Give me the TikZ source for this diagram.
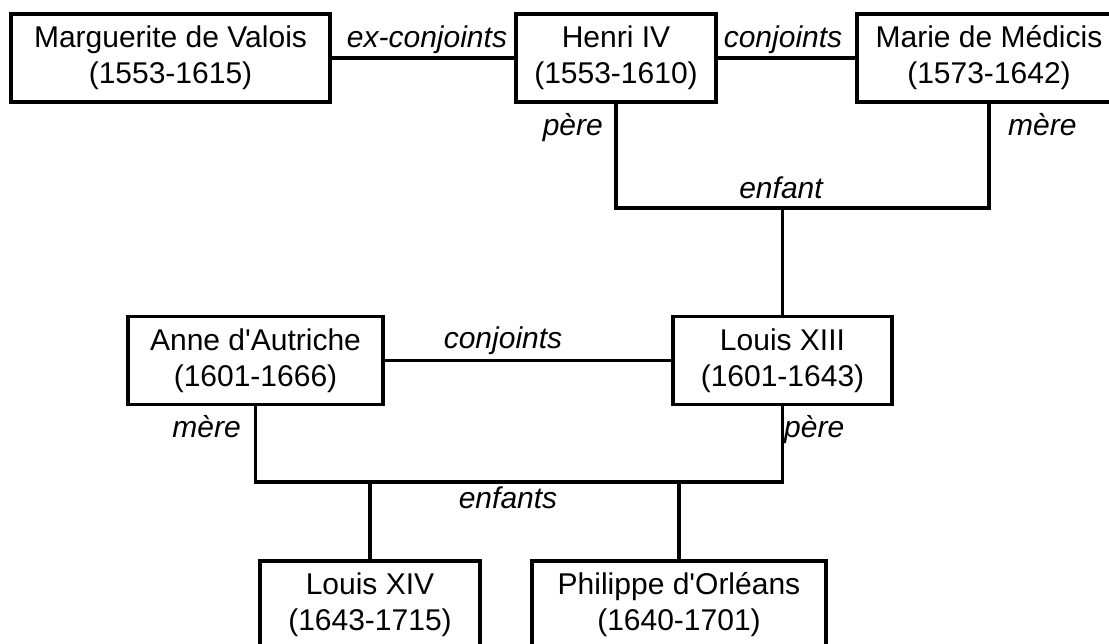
\documentclass[tikz,border=0pt]{standalone}
\usepackage{fontspec}
\setmainfont{Liberation Sans}

\begin{document}
\begin{tikzpicture}[x=1pt,y=-1pt,
  personne/.style={draw,line width=3.5pt,align=center,minimum height=88pt,inner sep=0pt,font=\fontsize{30}{36}\selectfont},
  lien/.style={line width=3.5pt},
  relation/.style={inner sep=0pt,font=\fontsize{30}{36}\selectfont\itshape}]
\path[use as bounding box,clip] (0,0) rectangle (1109,643);

\node[personne,minimum width=319pt] (marguerite) at (170.5,58) {Marguerite de Valois\\(1553-1615)};
\node[personne,minimum width=200pt] (henri) at (616,58) {Henri IV\\(1553-1610)};
\node[personne,minimum width=264pt] (marie) at (989,58) {Marie de Médicis\\(1573-1642)};
\node[personne,minimum width=219pt] (louisXIII) at (782.5,360.5) {Louis XIII\\(1601-1643)};
\node[personne,minimum width=255pt] (anne) at (255.5,360.5) {Anne d\textquotesingle Autriche\\(1601-1666)};
\node[personne,minimum width=220pt] (louisXIV) at (370,605) {Louis XIV\\(1643-1715)};
\node[personne,minimum width=294pt] (philippe) at (679,605) {Philippe d\textquotesingle Orléans\\(1640-1701)};

\coordinate (couple1) at (782.5,208);
\coordinate (couple2) at (508,482);

\foreach \from/\to in {marguerite/henri,henri/marie,anne/louisXIII,couple1/louisXIII}
\draw[lien] (\from) -- (\to);

\draw[lien] (henri.south) |- (couple1) -| (marie.south);
\draw[lien] (anne.south) |- (couple2) -| (louisXIII.south);
\draw[lien] (louisXIV) -- (louisXIV |- couple2);
\draw[lien] (philippe) -- (philippe |- couple2);

\node[relation,anchor=base] (exconj) at (427,47) {ex-conjoints};
\node[relation,anchor=base] (conj1) at (783,47) {conjoints};
\node[relation,anchor=base east] (pere1) at (603,135) {père};
\node[relation,anchor=base west] (mere1) at (1008,135) {mère};
\node[relation,anchor=base] (enfant) at (781,198) {enfant};
\node[relation,anchor=base] (conj2) at (503,348) {conjoints};
\node[relation,anchor=base east] (mere2) at (241,437) {mère};
\node[relation,anchor=base west] (pere2) at (784,437) {père};
\node[relation,anchor=base] (enfants) at (508,508) {enfants};
\end{tikzpicture}
\end{document}
